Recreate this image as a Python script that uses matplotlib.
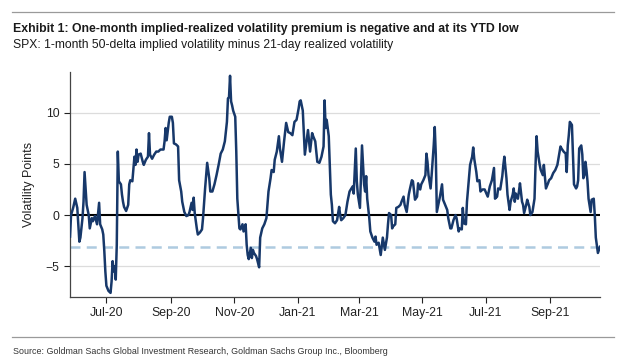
import matplotlib
matplotlib.use("Agg")
import matplotlib.pyplot as plt
import matplotlib.dates as mdates
import pandas as pd

# %% data (SPX 1m 50d implied minus 21d realized vol)
dates = [
    "2020-05-27", "2020-05-28", "2020-05-30", "2020-06-01", "2020-06-03", "2020-06-05", "2020-06-06",
    "2020-06-08", "2020-06-09", "2020-06-10", "2020-06-12", "2020-06-14", "2020-06-15", "2020-06-17",
    "2020-06-18", "2020-06-20", "2020-06-22", "2020-06-24", "2020-06-25", "2020-06-27", "2020-06-28",
    "2020-06-29", "2020-06-30", "2020-07-01", "2020-07-03", "2020-07-05", "2020-07-06", "2020-07-07",
    "2020-07-08", "2020-07-09", "2020-07-10", "2020-07-11", "2020-07-12", "2020-07-13", "2020-07-15",
    "2020-07-16", "2020-07-17", "2020-07-18", "2020-07-20", "2020-07-22", "2020-07-23", "2020-07-24",
    "2020-07-26", "2020-07-28", "2020-07-29", "2020-07-30", "2020-07-31", "2020-08-01", "2020-08-03",
    "2020-08-05", "2020-08-06", "2020-08-08", "2020-08-10", "2020-08-11", "2020-08-12", "2020-08-14",
    "2020-08-16", "2020-08-18", "2020-08-20", "2020-08-22", "2020-08-25", "2020-08-26", "2020-08-27",
    "2020-08-28", "2020-08-30", "2020-08-31", "2020-09-02", "2020-09-03", "2020-09-04", "2020-09-06",
    "2020-09-08", "2020-09-09", "2020-09-11", "2020-09-12", "2020-09-14", "2020-09-16", "2020-09-18",
    "2020-09-19", "2020-09-21", "2020-09-22", "2020-09-23", "2020-09-24", "2020-09-26", "2020-09-27",
    "2020-09-29", "2020-10-01", "2020-10-02", "2020-10-04", "2020-10-06", "2020-10-08", "2020-10-09",
    "2020-10-11", "2020-10-13", "2020-10-15", "2020-10-17", "2020-10-19", "2020-10-21", "2020-10-22",
    "2020-10-23", "2020-10-25", "2020-10-26", "2020-10-27", "2020-10-28", "2020-10-29", "2020-10-30",
    "2020-10-31", "2020-11-02", "2020-11-03", "2020-11-04", "2020-11-06", "2020-11-07", "2020-11-09",
    "2020-11-10", "2020-11-12", "2020-11-13", "2020-11-14", "2020-11-15", "2020-11-17", "2020-11-18",
    "2020-11-19", "2020-11-20", "2020-11-22", "2020-11-23", "2020-11-25", "2020-11-26", "2020-11-28",
    "2020-11-30", "2020-12-02", "2020-12-03", "2020-12-04", "2020-12-06", "2020-12-07", "2020-12-09",
    "2020-12-10", "2020-12-12", "2020-12-14", "2020-12-15", "2020-12-17", "2020-12-19", "2020-12-21",
    "2020-12-23", "2020-12-25", "2020-12-27", "2020-12-29", "2020-12-31", "2021-01-02", "2021-01-03",
    "2021-01-04", "2021-01-06", "2021-01-07", "2021-01-08", "2021-01-10", "2021-01-11", "2021-01-13",
    "2021-01-15", "2021-01-16", "2021-01-18", "2021-01-20", "2021-01-22", "2021-01-24", "2021-01-26",
    "2021-01-27", "2021-01-28", "2021-01-29", "2021-01-31", "2021-02-01", "2021-02-02", "2021-02-03",
    "2021-02-04", "2021-02-06", "2021-02-08", "2021-02-10", "2021-02-11", "2021-02-12", "2021-02-14",
    "2021-02-16", "2021-02-18", "2021-02-20", "2021-02-23", "2021-02-24", "2021-02-26", "2021-02-27",
    "2021-02-28", "2021-03-02", "2021-03-03", "2021-03-04", "2021-03-06", "2021-03-07", "2021-03-08",
    "2021-03-09", "2021-03-11", "2021-03-12", "2021-03-14", "2021-03-16", "2021-03-17", "2021-03-18",
    "2021-03-20", "2021-03-22", "2021-03-24", "2021-03-26", "2021-03-28", "2021-03-29", "2021-03-30",
    "2021-04-01", "2021-04-02", "2021-04-03", "2021-04-05", "2021-04-06", "2021-04-08", "2021-04-10",
    "2021-04-11", "2021-04-13", "2021-04-14", "2021-04-16", "2021-04-18", "2021-04-19", "2021-04-21",
    "2021-04-22", "2021-04-24", "2021-04-26", "2021-04-27", "2021-04-29", "2021-04-30", "2021-05-02",
    "2021-05-04", "2021-05-05", "2021-05-06", "2021-05-07", "2021-05-09", "2021-05-10", "2021-05-12",
    "2021-05-13", "2021-05-14", "2021-05-15", "2021-05-17", "2021-05-18", "2021-05-20", "2021-05-21",
    "2021-05-23", "2021-05-25", "2021-05-26", "2021-05-28", "2021-05-29", "2021-05-31", "2021-06-02",
    "2021-06-03", "2021-06-05", "2021-06-06", "2021-06-08", "2021-06-09", "2021-06-10", "2021-06-12",
    "2021-06-13", "2021-06-14", "2021-06-16", "2021-06-18", "2021-06-19", "2021-06-20", "2021-06-22",
    "2021-06-23", "2021-06-25", "2021-06-26", "2021-06-28", "2021-06-30", "2021-07-03", "2021-07-04",
    "2021-07-05", "2021-07-07", "2021-07-09", "2021-07-10", "2021-07-12", "2021-07-13", "2021-07-15",
    "2021-07-17", "2021-07-18", "2021-07-19", "2021-07-21", "2021-07-22", "2021-07-24", "2021-07-25",
    "2021-07-27", "2021-07-28", "2021-07-29", "2021-07-30", "2021-08-01", "2021-08-02", "2021-08-03",
    "2021-08-05", "2021-08-06", "2021-08-07", "2021-08-09", "2021-08-10", "2021-08-12", "2021-08-13",
    "2021-08-15", "2021-08-17", "2021-08-18", "2021-08-19", "2021-08-20", "2021-08-22", "2021-08-23",
    "2021-08-25", "2021-08-26", "2021-08-28", "2021-08-30", "2021-08-31", "2021-09-02", "2021-09-04",
    "2021-09-06", "2021-09-08", "2021-09-09", "2021-09-11", "2021-09-12", "2021-09-14", "2021-09-16",
    "2021-09-17", "2021-09-18", "2021-09-19", "2021-09-20", "2021-09-22", "2021-09-23", "2021-09-24",
    "2021-09-26", "2021-09-27", "2021-09-28", "2021-09-29", "2021-10-01", "2021-10-02", "2021-10-03",
    "2021-10-04", "2021-10-05", "2021-10-06", "2021-10-07", "2021-10-08", "2021-10-10", "2021-10-11",
    "2021-10-13", "2021-10-14", "2021-10-15", "2021-10-17", "2021-10-18", "2021-10-19",
]

vol_premium = [
    -2.1, 0.0, 0.7, 1.6, 0.7, -2.6, -2.2,
    -0.3, 1.3, 4.2, 1.0, 0.0, -1.3, -0.3,
    -0.6, -0.1, -0.9, 1.2, -0.9, -1.4, -1.9,
    -3.5, -5.5, -6.9, -7.4, -7.6, -6.5, -4.5,
    -5.5, -5.0, -6.3, -2.9, 6.2, 3.3, 3.0,
    2.0, 1.3, 0.8, 0.4, 1.0, 3.0, 3.4,
    3.3, 5.7, 4.9, 6.4, 5.2, 5.9, 6.0,
    5.2, 4.9, 5.4, 5.7, 8.0, 5.9, 5.5,
    5.9, 6.2, 6.2, 6.4, 6.4, 7.2, 8.5,
    7.3, 9.0, 9.6, 9.6, 9.0, 7.0, 6.9,
    6.7, 3.4, 2.3, 1.3, 0.3, -0.1, 0.0,
    0.3, 1.2, 0.5, 1.7, 0.2, -1.3, -1.9,
    -1.7, -1.4, -0.3, 2.6, 5.1, 3.6, 2.3,
    2.3, 3.0, 3.9, 4.9, 6.0, 6.4, 6.8,
    7.2, 9.1, 11.4, 11.5, 13.6, 11.1, 10.7,
    10.2, 9.6, 6.2, 1.6, -1.3, -1.4, -0.9,
    -1.6, -0.9, -2.9, -3.9, -4.3, -3.2, -4.2,
    -3.4, -3.7, -4.0, -4.3, -5.1, -2.2, -1.3,
    -0.9, -0.3, 1.0, 2.3, 3.6, 4.4, 4.2,
    5.4, 6.2, 7.7, 6.5, 5.2, 7.2, 9.0,
    8.1, 8.0, 7.8, 9.1, 9.3, 10.4, 11.1,
    11.2, 10.2, 8.1, 5.9, 7.5, 8.3, 6.2,
    8.0, 7.7, 7.2, 5.2, 5.1, 5.7, 6.7,
    11.2, 8.5, 9.3, 7.7, 4.9, 2.0, 1.0,
    -0.6, -0.8, -0.5, 0.8, 0.0, -0.5, -0.3,
    0.0, 1.3, 2.3, 2.8, 2.1, 6.5, 3.3,
    2.0, 0.7, 3.6, 6.8, 3.0, 2.3, 3.8,
    1.6, -0.3, -1.6, -2.2, -2.6, -2.1, -2.9,
    -2.7, -3.9, -2.2, -3.4, -2.2, -0.9, 0.2,
    0.0, -1.3, -1.1, -0.9, 0.7, 0.8, 1.0,
    1.3, 1.8, 1.0, 0.3, 2.0, 2.5, 3.4,
    3.3, 1.5, 1.8, 3.1, 2.5, 3.0, 3.4,
    3.9, 6.0, 5.2, 3.9, 2.6, 3.9, 6.8,
    8.6, 5.9, 0.3, 1.3, 1.8, 3.0, 1.5,
    1.0, 0.5, -0.3, -1.3, -1.3, -0.5, 0.0,
    -0.3, -1.6, -1.3, -1.4, 0.7, -0.8, -0.9,
    1.3, 2.5, 4.9, 5.7, 6.6, 5.5, 4.2,
    3.3, 3.4, 2.3, 2.5, 2.5, 1.8, 2.3,
    2.8, 3.4, 4.6, 1.6, 1.8, 2.6, 2.5,
    3.8, 4.9, 5.7, 3.6, 2.0, 0.5, 1.3,
    2.0, 2.6, 1.3, 2.1, 1.6, 2.3, 3.1,
    1.3, 1.0, 0.2, 1.0, 1.5, 0.8, 0.0,
    0.3, 1.6, 4.9, 7.7, 6.2, 4.9, 4.4,
    3.9, 4.9, 2.6, 3.1, 3.4, 3.6, 4.1,
    4.4, 4.9, 5.5, 6.7, 6.5, 6.2, 6.0,
    4.2, 6.8, 7.8, 9.1, 8.8, 5.9, 3.0,
    2.6, 2.8, 3.4, 6.5, 6.8, 5.9, 3.6,
    3.9, 5.2, 4.4, 3.3, 1.6, 0.3, 1.5,
    1.6, 0.0, -2.2, -3.7, -3.4, -3.1,
]

ytd_low = -3.1
y_ticks = [-5, 0, 5, 10]
tick_months = ["2020-07-01", "2020-09-01", "2020-11-01", "2021-01-01",
               "2021-03-01", "2021-05-01", "2021-07-01", "2021-09-01"]

title = "Exhibit 1: One-month implied-realized volatility premium is negative and at its YTD low"
subtitle = "SPX: 1-month 50-delta implied volatility minus 21-day realized volatility"
source = "Source: Goldman Sachs Global Investment Research, Goldman Sachs Group Inc., Bloomberg"

# %% plot
x = pd.to_datetime(dates)
plt.rcParams["font.family"] = ["Liberation Sans", "DejaVu Sans"]

W, H = 624, 361
fig = plt.figure(figsize=(W / 100, H / 100), dpi=100)
ax = fig.add_axes([0.1122, 0.1773, 0.8493, 0.6241])

for yv in y_ticks:
    if yv != 0:
        ax.axhline(yv, color="#dcdcdc", lw=0.9, zorder=0)
ax.axhline(0, color="black", lw=1.5, zorder=2)
ax.axhline(ytd_low, color="#aecbe0", lw=1.8, ls=(0, (4, 2.5)), zorder=1)
ax.plot(x, vol_premium, color="#17386a", lw=1.8, zorder=3)

ax.set_xlim(x[0], x[-1])
ax.set_ylim(-8, 14)
ax.set_yticks(y_ticks)
ax.set_xticks(pd.to_datetime(tick_months))
ax.xaxis.set_major_formatter(mdates.DateFormatter("%b-%y"))
ax.tick_params(labelsize=8.8, colors="#222222", length=4, width=0.8)
ax.set_ylabel("Volatility Points", fontsize=9, color="#222222", labelpad=8)

for s in ["top", "right"]:
    ax.spines[s].set_visible(False)
for s in ["left", "bottom"]:
    ax.spines[s].set_color("#444444")
    ax.spines[s].set_linewidth(0.9)

# header / footer rules
fig.add_artist(plt.Line2D([12 / W, 614 / W], [1 - 12 / H] * 2, color="#9a9a9a", lw=0.9))
fig.add_artist(plt.Line2D([12 / W, 614 / W], [1 - 337 / H] * 2, color="#9a9a9a", lw=0.9))


def fit_text(txt, y_px, width_px, size, **kw):
    # shrink a header line so it spans the same width as in the reference
    t = fig.text(13 / W, 1 - y_px / H, txt, fontsize=size, va="center", **kw)
    r = fig.canvas.get_renderer()
    w = t.get_window_extent(renderer=r).width
    t.set_fontsize(size * width_px / w)
    return t


fit_text(title, 29, 505, 9, fontweight="bold", color="#1a1a1a")
fit_text(subtitle, 45, 380, 9, color="#1a1a1a")
fit_text(source, 351, 370, 7, color="#333333")

fig.savefig("out.png", dpi=100)
